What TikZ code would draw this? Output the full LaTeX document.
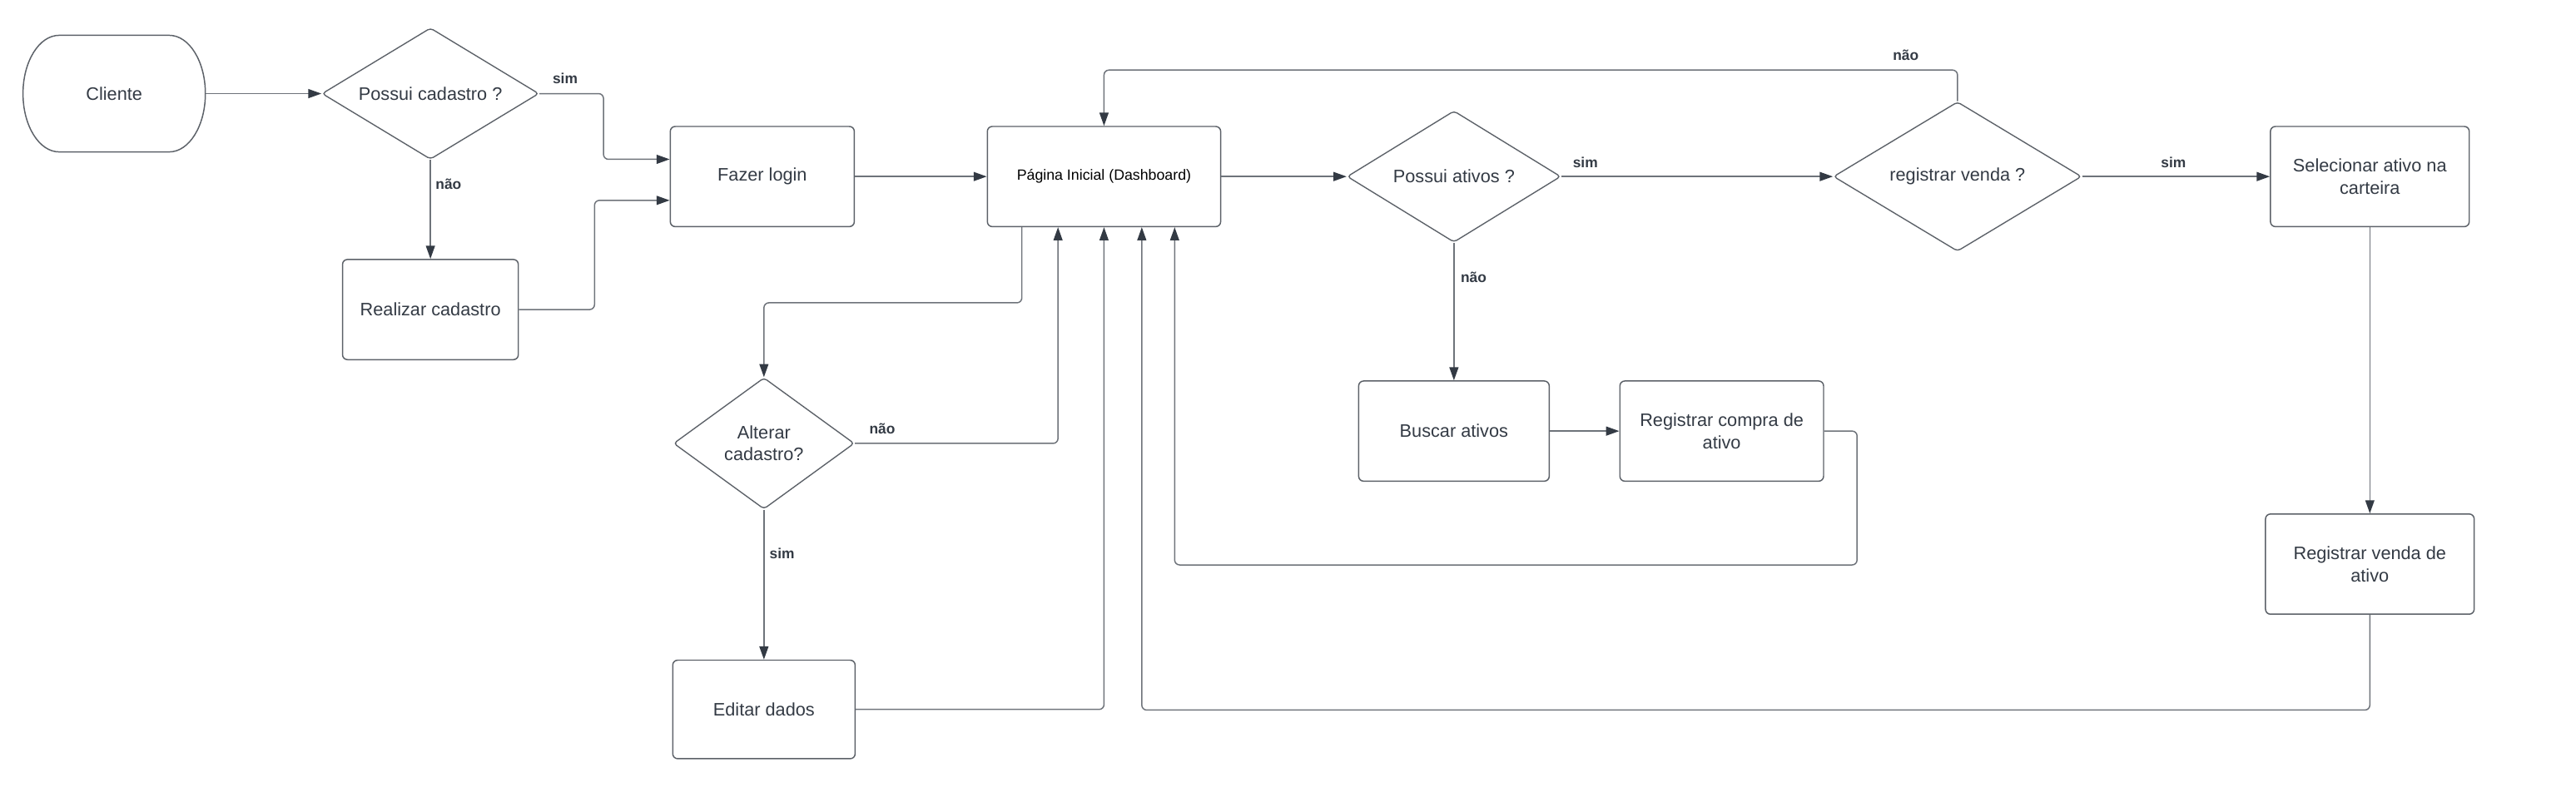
\documentclass[tikz,border=0pt]{standalone}
\usepackage{fontspec}
\setmainfont{Liberation Sans}
\usetikzlibrary{shapes.geometric,arrows.meta,calc}
\definecolor{txt}{HTML}{333A44}
\definecolor{bx}{HTML}{5C6168}
\definecolor{ln}{HTML}{6E737A}
\begin{document}
\begin{tikzpicture}[x=1pt,y=-1pt,
  box/.style={draw=bx, line width=0.75pt, rounded corners=3pt, minimum height=61pt,
    font=\fontsize{11}{13.5}\selectfont, text=txt, align=center, inner sep=0pt},
  dec/.style={diamond, draw=bx, line width=0.7pt, rounded corners=2pt, inner sep=0pt,
    font=\fontsize{11}{13}\selectfont, text=txt, align=center},
  arr/.style={draw=ln, line width=0.75pt, rounded corners=3pt,
    -{Triangle[length=8pt,width=5.5pt,color=txt,fill=txt]}},
  lab/.style={font=\bfseries\fontsize{8.8}{10}\selectfont, text=txt, inner sep=0pt}
]
\useasboundingbox (0,0) rectangle (1568,491);

% terminal
\node[minimum width=111pt, minimum height=71pt, inner sep=0pt, text=txt,
      font=\fontsize{11}{12.6}\selectfont] (cli) at (69.5,57) {Cliente};
\draw[bx, line width=0.75pt] (36,21.5) -- (103,21.5)
  arc[start angle=90, end angle=-90, x radius=22pt, y radius=35.5pt]
  -- (36,92.5)
  arc[start angle=270, end angle=90, x radius=22pt, y radius=35.5pt] -- cycle;

% boxes
\node[box, minimum width=112pt] (login) at (464,107.5) {Fazer login};
\node[box, minimum width=107pt] (real) at (262,188.5) {Realizar cadastro};
\node[box, minimum width=142pt, text=black, font=\fontsize{9}{11}\selectfont] (pag) at (672,107.5) {Página Inicial (Dashboard)};
\node[box, minimum width=121pt] (sel) at (1442.5,107.5) {Selecionar ativo na\\carteira};
\node[box, minimum width=127pt] (rvd) at (1442.5,343.5) {Registrar venda de\\ativo};
\node[box, minimum width=116pt] (busca) at (885,262.5) {Buscar ativos};
\node[box, minimum width=124pt] (rc) at (1048,262.5) {Registrar compra de\\ativo};
\node[box, minimum width=111pt, minimum height=60pt] (edit) at (465,432) {Editar dados};

% decisions
\node[dec, aspect=1.65, minimum width=132pt, minimum height=80pt] (pc) at (262,57) {Possui cadastro ?};
\node[dec, aspect=1.62, minimum width=130pt, minimum height=80pt] (pa) at (885,107.5) {Possui ativos ?};
\node[dec, aspect=1.66, minimum width=151pt, minimum height=91pt] (rv) at (1191.5,107.5) {registrar venda ?};
\node[dec, aspect=1.37, minimum width=110pt, minimum height=80pt] (ac) at (465,270) {Alterar\\cadastro?};

% connectors
\draw[arr] (cli.east) -- (pc.west);
\draw[arr] (pc.east) -- ++(39,0) |- ([yshift=10.5pt]login.west);
\draw[arr] (pc.south) -- (pc.south |- real.north);
\draw[arr] (real.east) -- ++(46,0) |- ([yshift=-14.5pt]login.west);
\draw[arr] (login.east) -- (pag.west);
\draw[arr] (pag.east) -- (pa.west);
\draw[arr] (pa.east) -- (rv.west);
\draw[arr] (rv.east) -- (sel.west);
\draw[arr] (rv.north) -- ++(0,-19) -| (pag.north);
\draw[arr] (sel.south) -- (rvd.north);
\draw[arr] (rvd.south) -- ++(0,58) -| ([xshift=23pt]pag.south);
\draw[arr] (pa.south) -- (pa.south |- busca.north);
\draw[arr] (busca.east) -- (rc.west);
\draw[arr] (rc.east) -- ++(20,0) -- ++(0,81.5) -| ([xshift=43pt]pag.south);
\draw[arr] ([xshift=-50pt]pag.south) -- ++(0,46) -| (ac.north);
\draw[arr] (ac.east) -| ([xshift=-28pt]pag.south);
\draw[arr] (ac.south) -- (ac.south |- edit.north);
\draw[arr] (edit.east) -| (pag.south);

% labels
\node[lab] (l1) at (344,48) {sim};
\node[lab] (l2) at (273,112) {não};
\node[lab] (l3) at (965,99) {sim};
\node[lab] (l4) at (897,169) {não};
\node[lab] (l5) at (1160,33.5) {não};
\node[lab] (l6) at (1323,99) {sim};
\node[lab] (l7) at (537,261) {não};
\node[lab] (l8) at (476,337) {sim};
\end{tikzpicture}
\end{document}
